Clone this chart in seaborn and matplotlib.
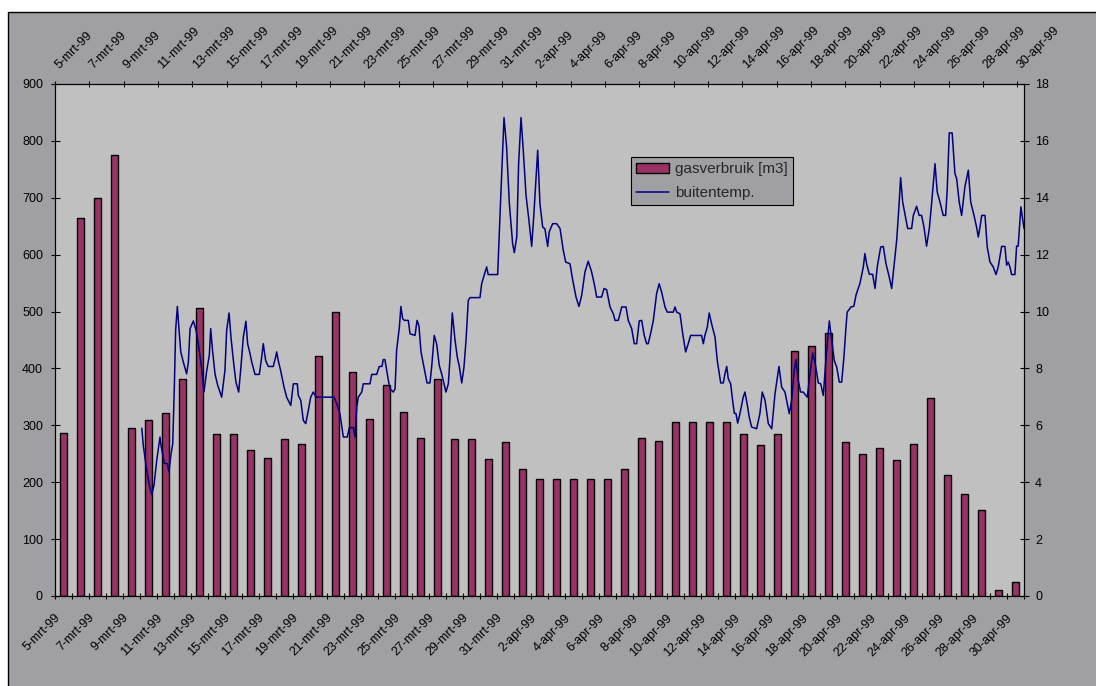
import numpy as np
import pandas as pd
import matplotlib
matplotlib.use("Agg")
import matplotlib.pyplot as plt
import matplotlib.transforms as mtransforms
from matplotlib.patches import Rectangle, Patch
from matplotlib.lines import Line2D
import seaborn as sns

sns.set_style("ticks")
plt.rcParams["font.family"] = ["Liberation Sans", "DejaVu Sans"]

# dagen 5 maart t/m 30 april 1999
maanden = {3: "mrt", 4: "apr"}
dagen = pd.date_range("1999-03-05", "1999-04-30", freq="D")
datums = [f"{d.day}-{maanden[d.month]}-99" for d in dagen]

# dagelijks gasverbruik [m3]
gasverbruik = [287, 664, 699, 775, 295, 309, 322, 381, 506, 285,
               285, 256, 243, 276, 267, 421, 499, 394, 311, 371,
               324, 278, 381, 276, 276, 241, 270, 224, 206, 206,
               206, 206, 206, 224, 278, 272, 305, 305, 305, 305,
               285, 265, 285, 431, 440, 462, 270, 250, 260, 239,
               267, 348, 212, 179, 151, 11, 24]

# buitentemperatuur: tijdstip in dagen na 5-mrt-99 00:00 en temperatuur [graden C]
temp_dag = [5.05, 5.14, 5.28, 5.47, 5.63, 5.76, 5.92, 6.11, 6.17, 6.36,
            6.54, 6.63, 6.75, 6.85, 6.94, 7.02, 7.12, 7.22, 7.32, 7.47,
            7.66, 7.76, 7.86, 8.05, 8.21, 8.34, 8.50, 8.67, 8.83, 8.98,
            9.06, 9.15, 9.31, 9.47, 9.70, 9.89, 9.99, 10.13, 10.24, 10.38,
            10.53, 10.69, 10.82, 10.96, 11.11, 11.21, 11.35, 11.45, 11.64, 11.89,
            12.03, 12.12, 12.26, 12.41, 12.70, 12.84, 12.90, 12.99, 13.13, 13.33,
            13.48, 13.72, 13.87, 14.10, 14.16, 14.30, 14.45, 14.59, 14.74, 14.88,
            15.03, 15.19, 16.24, 16.43, 16.58, 16.78, 17.01, 17.13, 17.36, 17.46,
            17.56, 17.65, 17.85, 17.94, 18.33, 18.43, 18.72, 18.87, 19.03, 19.10,
            19.20, 19.40, 19.49, 19.69, 19.79, 19.88, 20.04, 20.13, 20.23, 20.33,
            20.56, 20.66, 20.95, 21.07, 21.18, 21.30, 21.47, 21.65, 21.82, 21.92,
            22.07, 22.21, 22.36, 22.50, 22.75, 22.89, 22.99, 23.12, 23.28, 23.41,
            23.53, 23.67, 23.80, 23.92, 24.05, 24.15, 24.73, 24.83, 25.02, 25.12,
            25.21, 25.76, 25.90, 26.13, 26.28, 26.44, 26.63, 26.73, 26.87, 26.98,
            27.12, 27.25, 27.41, 27.58, 27.74, 27.87, 28.09, 28.22, 28.38, 28.51,
            28.67, 28.76, 28.96, 29.19, 29.39, 29.58, 29.72, 29.97, 30.13, 30.32,
            30.49, 30.65, 30.84, 31.03, 31.23, 31.42, 31.52, 31.81, 31.95, 32.10,
            32.30, 32.49, 32.59, 32.78, 32.98, 33.23, 33.36, 33.56, 33.71, 33.85,
            34.00, 34.14, 34.29, 34.43, 34.52, 34.66, 34.82, 35.01, 35.16, 35.30,
            35.50, 35.63, 35.98, 36.08, 36.18, 36.37, 36.53, 36.70, 36.85, 36.99,
            37.11, 37.63, 37.73, 37.82, 37.96, 38.07, 38.21, 38.41, 38.54, 38.74,
            38.89, 38.99, 39.09, 39.18, 39.32, 39.41, 39.53, 39.63, 39.73, 39.86,
            40.05, 40.15, 40.31, 40.40, 40.54, 40.83, 41.02, 41.16, 41.32, 41.51,
            41.71, 41.90, 42.13, 42.29, 42.48, 42.73, 42.87, 43.02, 43.12, 43.25,
            43.39, 43.54, 43.70, 43.78, 43.89, 44.09, 44.24, 44.42, 44.56, 44.71,
            44.86, 45.06, 45.20, 45.35, 45.49, 45.64, 45.78, 45.91, 46.03, 46.10,
            46.32, 46.49, 46.61, 46.74, 46.84, 46.94, 47.04, 47.13, 47.23, 47.39,
            47.58, 47.72, 47.85, 48.05, 48.20, 48.36, 48.55, 48.69, 48.82, 48.98,
            49.11, 49.21, 49.33, 49.46, 49.62, 49.85, 49.95, 50.14, 50.29, 50.43,
            50.57, 50.72, 50.88, 51.02, 51.21, 51.34, 51.50, 51.69, 51.83, 51.92,
            52.04, 52.21, 52.37, 52.47, 52.62, 52.76, 52.95, 53.15, 53.29, 53.48,
            53.63, 53.73, 53.83, 53.93, 54.12, 54.25, 54.41, 54.60, 54.76, 54.89,
            55.09, 55.28, 55.38, 55.47, 55.57, 55.67, 55.86, 55.96, 56.05, 56.21,
            56.39]
buitentemp = [5.90, 5.29, 4.65, 3.95, 3.57, 3.89, 4.77, 5.59, 5.29, 4.67,
              4.65, 4.36, 4.98, 5.35, 7.23, 9.34, 10.18, 9.34, 8.58, 8.22,
              7.81, 8.22, 9.40, 9.67, 9.34, 8.87, 8.17, 7.17, 7.93, 8.46,
              9.40, 8.75, 7.81, 7.40, 6.99, 7.93, 9.34, 9.95, 9.10, 8.28,
              7.52, 7.17, 8.05, 9.10, 9.66, 8.87, 8.52, 8.22, 7.79, 7.79,
              8.40, 8.87, 8.28, 8.07, 8.07, 8.40, 8.58, 8.28, 7.93, 7.34,
              6.99, 6.70, 7.46, 7.46, 7.05, 6.88, 6.17, 6.06, 6.52, 6.99,
              7.17, 6.99, 6.99, 6.70, 6.41, 5.59, 5.59, 5.92, 5.92, 5.59,
              6.64, 6.99, 7.17, 7.46, 7.46, 7.79, 7.79, 8.07, 8.07, 8.31,
              8.31, 7.58, 7.29, 7.17, 7.29, 8.64, 9.45, 10.18, 9.75, 9.69,
              9.69, 9.22, 9.16, 9.69, 9.50, 8.58, 8.05, 7.49, 7.49, 8.05,
              9.16, 8.87, 8.11, 7.81, 7.17, 7.46, 8.40, 9.95, 8.99, 8.40,
              8.07, 7.49, 8.05, 8.99, 10.39, 10.49, 10.49, 10.98, 11.36, 11.57,
              11.30, 11.30, 13.44, 16.82, 15.79, 13.80, 12.39, 12.07, 12.62, 15.20,
              16.82, 15.67, 14.09, 13.21, 12.29, 13.44, 15.67, 13.80, 12.97, 12.91,
              12.29, 12.80, 13.09, 13.09, 12.92, 12.15, 11.74, 11.68, 11.10, 10.51,
              10.18, 10.57, 11.39, 11.77, 11.39, 10.86, 10.51, 10.51, 10.81, 10.77,
              10.16, 9.92, 9.69, 9.69, 10.16, 10.16, 9.69, 9.40, 8.87, 8.87,
              9.67, 9.69, 9.16, 8.87, 8.87, 9.22, 9.69, 10.63, 10.98, 10.69,
              10.16, 9.98, 9.98, 10.16, 9.98, 9.92, 9.22, 8.58, 8.87, 9.16,
              9.16, 9.16, 8.87, 9.16, 9.45, 9.95, 9.57, 9.10, 8.28, 7.49,
              7.49, 7.82, 8.07, 7.64, 7.46, 6.99, 6.43, 6.41, 6.08, 6.41,
              6.99, 7.17, 6.64, 6.29, 5.94, 5.88, 6.41, 7.17, 6.88, 6.06,
              5.88, 7.11, 8.07, 7.34, 7.17, 6.41, 6.88, 7.93, 8.31, 7.58,
              7.17, 7.17, 7.05, 6.99, 7.58, 8.54, 8.17, 7.49, 7.46, 7.05,
              8.28, 9.67, 8.99, 8.28, 8.05, 7.52, 7.52, 8.40, 9.45, 9.98,
              10.16, 10.19, 10.57, 10.81, 10.98, 11.27, 11.57, 12.04, 11.68, 11.31,
              11.31, 10.81, 11.57, 12.27, 12.29, 11.68, 11.21, 10.81, 11.57, 12.50,
              13.67, 14.71, 13.85, 13.44, 12.92, 12.92, 13.38, 13.70, 13.38, 13.38,
              12.97, 12.30, 12.92, 13.85, 15.20, 14.20, 13.85, 13.38, 13.38, 14.26,
              16.28, 16.28, 14.85, 14.68, 13.85, 13.38, 14.38, 14.97, 13.85, 13.38,
              12.97, 12.62, 12.97, 13.38, 13.38, 12.27, 11.74, 11.57, 11.30, 11.57,
              12.29, 12.29, 11.63, 11.74, 11.57, 11.30, 11.30, 12.30, 12.30, 13.68,
              12.92]

kleur_gas = "#993366"
kleur_temp = "#000080"
grijs_kader = "#A0A0A4"
grijs_plot = "#C0C0C0"

W, H = 1096, 686
fig = plt.figure(figsize=(W / 100, H / 100), dpi=100, facecolor="white")
px = 0.72  # punten per pixel bij 100 dpi

# grijze grafiekachtergrond met zwarte rand
fig.patches.append(Rectangle((8 / W, -0.01), 1.02, 1 - 12 / H + 0.01,
                             transform=fig.transFigure, facecolor=grijs_kader,
                             edgecolor="black", linewidth=1, zorder=-1))

rect = [55 / W, 90 / H, 969 / W, 512 / H]

# primaire as: staven gasverbruik
ax = fig.add_axes(rect)
ax.set_facecolor(grijs_plot)
sns.barplot(x=datums, y=gasverbruik, ax=ax, color=kleur_gas, saturation=1,
            edgecolor="black", linewidth=1, width=0.45)
ax.set_xlim(-0.5, len(datums) - 0.5)
ax.set_ylim(0, 900)
ax.set_yticks(range(0, 901, 100))
ax.set_xticks(range(0, len(datums), 2))
ax.set_xticklabels(datums[::2], rotation=45, ha="right", va="center",
                   rotation_mode="anchor")
ax.set_xticks(np.arange(-0.5, len(datums), 1), minor=True)
ax.tick_params(axis="x", which="major", length=0, pad=20 * px, labelsize=9,
               colors="black")
ax.tick_params(axis="x", which="minor", direction="inout", length=6 * px,
               width=0.8, color="black")
ax.tick_params(axis="y", direction="inout", length=9 * px, width=0.8,
               pad=7.5 * px, labelsize=9, colors="black")
ax.set_xlabel("")
ax.set_ylabel("")
for s in ax.spines.values():
    s.set_color("black")
    s.set_linewidth(0.8)
for lbl in ax.get_xticklabels():
    lbl.set_transform(lbl.get_transform()
                      + mtransforms.ScaledTranslation(-5 / 100, 0, fig.dpi_scale_trans))

# secundaire assen: buitentemperatuur
ax2 = fig.add_axes(rect)
ax2.patch.set_visible(False)
sns.lineplot(x=temp_dag, y=buitentemp, ax=ax2, color=kleur_temp, linewidth=1.1,
             sort=False, estimator=None)
ax2.set_xlim(0, 56.39)
ax2.set_ylim(0, 18)
ax2.yaxis.tick_right()
ax2.xaxis.tick_top()
ax2.set_yticks(range(0, 19, 2))
ax2.set_xticks(range(0, len(datums), 2))
ax2.set_xticklabels(datums[::2], rotation=45, ha="left", va="center",
                    rotation_mode="anchor")
ax2.tick_params(axis="x", direction="inout", length=6 * px, width=0.8,
                pad=14 * px, labelsize=9, colors="black")
ax2.tick_params(axis="y", direction="inout", length=9 * px, width=0.8,
                pad=6.5 * px, labelsize=9, colors="black")
ax2.set_xlabel("")
ax2.set_ylabel("")
for s in ax2.spines.values():
    s.set_color("black")
    s.set_linewidth(0.8)
for lbl in ax2.get_xticklabels():
    lbl.set_transform(lbl.get_transform()
                      + mtransforms.ScaledTranslation(2 / 100, 0, fig.dpi_scale_trans))

# legenda
handles = [Patch(facecolor=kleur_gas, edgecolor="black", linewidth=1),
           Line2D([], [], color=kleur_temp, linewidth=1.1)]
leg = fig.legend(handles, ["gasverbruik [m3]", "buitentemp."],
                 loc="upper left", bbox_to_anchor=(631 / W, 1 - 157 / H),
                 frameon=True, fancybox=False, facecolor=grijs_kader,
                 edgecolor="black", framealpha=1, fontsize=11,
                 handlelength=2.15, handleheight=0.55, handletextpad=0.4,
                 borderaxespad=0, borderpad=0.35, labelspacing=0.6)
leg.get_frame().set_linewidth(0.8)

fig.savefig("out.png", dpi=100, facecolor="white")
